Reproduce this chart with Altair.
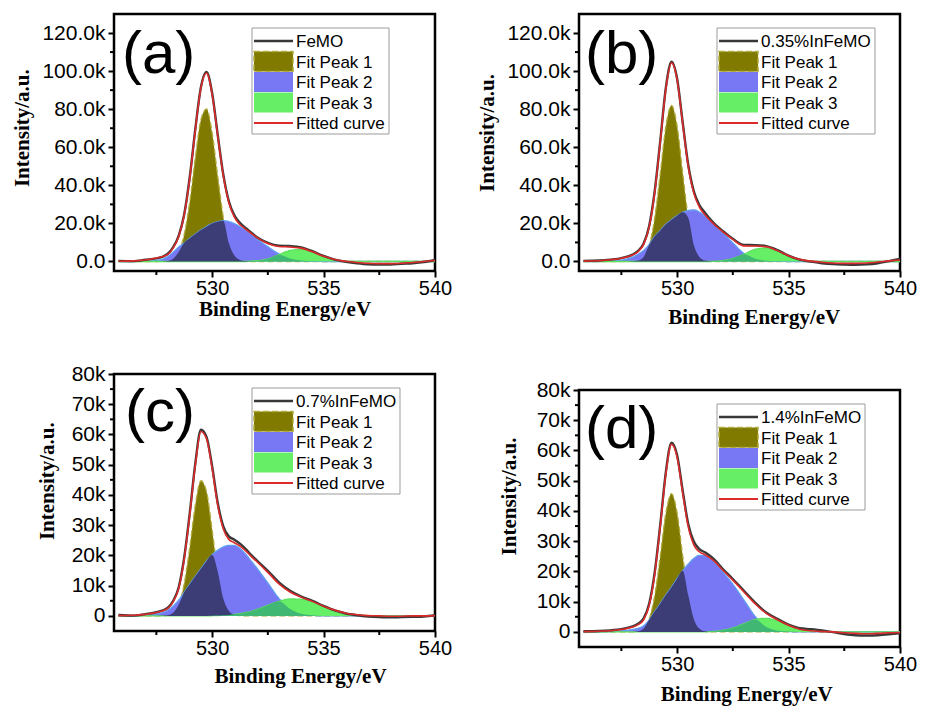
import altair as alt
import numpy as np
import pandas as pd

# ---- data -----------------------------------------------------------------
# Binding-energy grid (eV) shared by the four O 1s spectra
energy = [525.8, 526.5, 527.0, 527.5, 528.0, 528.25, 528.5, 528.75, 529.0, 529.25,
          529.5, 529.75, 530.0, 530.25, 530.5, 530.75, 531.0, 531.25, 531.5, 531.75,
          532.0, 532.5, 533.0, 533.5, 534.0, 534.5, 535.0, 535.5, 536.0, 536.5,
          537.0, 537.5, 538.0, 538.5, 539.0, 539.5, 540.0]

# intensities in thousands of counts
# (a) FeMO
a_raw = [0.3, 0.2, 0.9, 1.6, 3.9, 7.4, 13.4, 24.8, 44.5, 69.8, 91.6, 99.6, 88.6, 66.8, 45.9,
         31.8, 24.2, 20.3, 17.6, 15.3, 12.9, 9.8, 8.3, 8.1, 7.4, 5.4, 2.9, 1.0, -0.2, -1.0,
         -1.5, -1.6, -1.6, -1.2, -0.9, -0.3, 0.8]
a_fit = [0.1, 0.3, 0.8, 1.8, 3.6, 7.0, 13.0, 24.3, 43.8, 69.3, 91.2, 99.0, 88.0, 66.2, 45.2,
         31.0, 23.3, 19.4, 17.0, 14.8, 12.7, 9.5, 7.9, 7.6, 7.0, 5.1, 2.7, 1.0, 0.1, -0.5,
         -0.9, -1.1, -1.1, -0.9, -0.5, 0.0, 0.6]
a_p1 = [0, 0, 0, 0, 0.3, 1.4, 5.0, 14.2, 31.4, 54.6, 74.5, 80.1, 67.7, 45.0, 23.5,
        9.7, 3.1, 0.8, 0.2, 0, 0, 0, 0, 0, 0, 0, 0, 0, 0, 0,
        0, 0, 0, 0, 0, 0, 0]
a_p2 = [0, 0, 0.1, 0.5, 2.5, 4.8, 7.6, 9.8, 12.2, 14.4, 16.5, 18.3, 19.9, 20.9, 21.4,
        21.0, 19.9, 18.3, 16.4, 14.3, 12.0, 7.8, 4.0, 1.6, 0.5, 0.1, 0, 0, 0, 0,
        0, 0, 0, 0, 0, 0, 0]
a_p3 = [0, 0, 0, 0, 0, 0, 0, 0, 0, 0, 0, 0, 0, 0, 0,
        0, 0, 0, 0, 0.2, 0.4, 1.3, 3.6, 5.8, 6.3, 4.9, 2.6, 0.9, 0.2, 0,
        0, 0, 0, 0, 0, 0, 0]

# (b) 0.35%InFeMO
b_raw = [0.3, 0.5, 1.0, 1.8, 3.6, 5.6, 9.5, 18.8, 37.3, 63.9, 91.6, 104.9, 96.1, 73.2, 50.8,
         36.9, 29.7, 25.6, 22.0, 19.0, 16.5, 11.9, 8.7, 8.6, 8.1, 6.0, 3.1, 1.0, -0.1, -0.9,
         -1.4, -1.6, -1.7, -1.5, -0.9, 0.2, 1.3]
b_fit = [0.2, 0.4, 0.9, 1.7, 3.4, 5.2, 9.0, 18.2, 36.6, 63.2, 91.0, 104.3, 95.5, 72.6, 50.0,
         35.9, 28.6, 24.5, 21.3, 18.5, 16.1, 11.6, 8.2, 8.1, 7.7, 5.7, 3.0, 1.1, 0.2, -0.4,
         -0.8, -1.0, -1.0, -0.8, -0.3, 0.3, 0.8]
b_p1 = [0, 0, 0, 0, 0.1, 0.5, 2.4, 8.6, 23.0, 46.6, 71.2, 82.0, 71.2, 46.6, 23.0,
        8.6, 2.4, 0.5, 0.1, 0, 0, 0, 0, 0, 0, 0, 0, 0, 0, 0,
        0, 0, 0, 0, 0, 0, 0]
b_p2 = [0, 0, 0.2, 0.7, 2.3, 3.8, 5.8, 9.0, 13.2, 16.3, 19.5, 21.9, 24.0, 25.8, 26.8,
        27.1, 26.0, 23.8, 21.0, 18.2, 15.5, 9.8, 4.2, 1.5, 0.4, 0.1, 0, 0, 0, 0,
        0, 0, 0, 0, 0, 0, 0]
b_p3 = [0, 0, 0, 0, 0, 0, 0, 0, 0, 0, 0, 0, 0, 0, 0,
        0, 0, 0, 0, 0.1, 0.4, 1.6, 3.8, 6.4, 7.1, 5.4, 2.8, 1.0, 0.2, 0,
        0, 0, 0, 0, 0, 0, 0]

# (c) 0.7%InFeMO
c_raw = [0.3, 0.1, 0.6, 1.2, 2.6, 4.9, 9.4, 19.3, 34.1, 50.6, 61.6, 59.2, 49.6, 37.5, 29.7,
         26.3, 25.2, 23.9, 22.2, 20.2, 18.4, 14.9, 11.1, 8.3, 6.4, 5.0, 3.3, 1.8, 0.8, 0.2,
         -0.2, -0.4, -0.5, -0.4, -0.3, -0.2, 0.2]
c_fit = [0.1, 0.2, 0.5, 1.1, 2.4, 4.6, 9.0, 18.8, 33.5, 50.0, 61.0, 58.6, 48.9, 36.7, 28.8,
         25.3, 24.2, 23.1, 21.6, 19.7, 18.0, 14.4, 10.6, 7.9, 6.2, 4.8, 3.2, 1.9, 0.9, 0.4,
         0.1, 0.0, -0.1, -0.1, 0.0, 0.0, 0.1]
c_p1 = [0, 0, 0, 0, 0.2, 1.0, 3.7, 10.6, 22.7, 36.7, 44.7, 41.1, 28.5, 14.8, 5.8,
        1.7, 0.4, 0.1, 0, 0, 0, 0, 0, 0, 0, 0, 0, 0, 0, 0,
        0, 0, 0, 0, 0, 0, 0]
c_p2 = [0, 0, 0.2, 0.6, 1.8, 3.2, 5.2, 7.8, 10.5, 13.1, 15.6, 18.1, 20.2, 21.7, 22.8,
        23.3, 23.3, 22.3, 20.5, 18.2, 15.9, 10.9, 5.8, 2.3, 0.7, 0.2, 0, 0, 0, 0,
        0, 0, 0, 0, 0, 0, 0]
c_p3 = [0, 0, 0, 0, 0, 0, 0, 0, 0, 0, 0, 0, 0.05, 0.1, 0.2,
        0.3, 0.5, 0.7, 1.1, 1.5, 2.1, 3.5, 4.8, 5.6, 5.5, 4.6, 3.2, 1.9, 0.9, 0.4,
        0.1, 0, 0, 0, 0, 0, 0]

# (d) 1.4%InFeMO
d_raw = [0.2, 0.3, 0.5, 0.9, 1.8, 2.7, 4.5, 9.4, 19.9, 35.8, 53.1, 62.6, 58.5, 46.8, 35.7,
         29.9, 27.4, 26.3, 25.0, 23.3, 21.2, 17.5, 13.6, 9.7, 6.4, 4.3, 2.4, 1.2, 0.9, 0.5,
         -0.1, -0.7, -1.1, -1.2, -1.1, -0.8, -0.4]
d_fit = [0.1, 0.2, 0.4, 0.8, 1.6, 2.4, 4.0, 8.8, 19.3, 35.2, 52.5, 62.0, 57.8, 46.0, 34.8,
         28.8, 26.5, 25.5, 24.4, 22.8, 20.8, 17.1, 13.2, 9.3, 6.1, 4.0, 2.2, 0.9, 0.4, 0.1,
         0.0, -0.3, -0.5, -0.6, -0.5, -0.3, -0.2]
d_p1 = [0, 0, 0, 0, 0, 0.2, 1.1, 4.3, 12.1, 25.3, 39.4, 45.7, 39.4, 25.3, 12.1,
        4.3, 1.1, 0.2, 0, 0, 0, 0, 0, 0, 0, 0, 0, 0, 0, 0,
        0, 0, 0, 0, 0, 0, 0]
d_p2 = [0, 0, 0.1, 0.3, 0.8, 1.2, 2.0, 4.0, 6.8, 9.4, 12.2, 14.8, 17.6, 20.2, 22.4,
        24.3, 25.3, 25.2, 24.2, 22.5, 20.3, 15.8, 10.5, 5.2, 1.6, 0.4, 0.1, 0, 0, 0,
        0, 0, 0, 0, 0, 0, 0]
d_p3 = [0, 0, 0, 0, 0, 0, 0, 0, 0, 0, 0, 0, 0, 0, 0,
        0, 0, 0, 0.1, 0.2, 0.5, 1.3, 2.7, 4.1, 4.5, 3.6, 2.1, 0.9, 0.3, 0.1,
        0, 0, 0, 0, 0, 0, 0]

samples = ["FeMO", "0.35%InFeMO", "0.7%InFeMO", "1.4%InFeMO"]
peak_names = ["Fit Peak 1", "Fit Peak 2", "Fit Peak 3"]
fit_name = "Fitted curve"

x_major = [530, 535, 540]
x_minor = [527.5, 532.5, 537.5]
y_major_big = [0, 20, 40, 60, 80, 100, 120]
y_minor_big = [10, 30, 50, 70, 90, 110]
y_major_small = [0, 10, 20, 30, 40, 50, 60, 70, 80]
y_minor_small = [5, 15, 25, 35, 45, 55, 65, 75]

# ---- styling ----------------------------------------------------------------
W, H = 321, 257
X_DOMAIN = [525.6, 540]
SANS = "Liberation Sans"
SERIF = "Liberation Serif"
COL = {
    "raw": "#383838", "fit": "#dc2a2a",
    "p1": "#807b00", "p2": "#7878f4", "p3": "#66ee66",
    "ov12": "#3c3c77", "ov23": "#40b874",
    "p1_edge": "#b0aa3c", "p2_edge": "#5f9ff2", "p3_edge": "#5ee05e",
}
LEG_X, LEG_Y0, LEG_Y1 = 138, 14, 120
LEG_ROWS = [27, 47.5, 68, 88.5, 109]


def one_row(**kw):
    return alt.Chart(pd.DataFrame({k: [v] for k, v in kw.items()} or {"k": [0]}))


def panel(tag, sample, raw, fit, p1, p2, p3, y_top, y_major, y_minor, label_expr, lay):
    df = pd.DataFrame({"E": energy, "raw": raw, "fit": fit, "p1": p1, "p2": p2, "p3": p3})
    df["ov12"] = np.minimum(df["p1"], df["p2"])
    df["ov23"] = np.minimum(df["p2"], df["p3"])

    xs = alt.Scale(domain=X_DOMAIN, nice=False, zero=False)
    ys = alt.Scale(domain=[-5, y_top], nice=False, zero=False)

    x_axis = alt.Axis(
        values=x_major, title="Binding Energy/eV", titleFont=SERIF, titleFontWeight="bold",
        titleFontSize=21, titleColor="black", titleX=lay["tx"], titleY=lay["ty"],
        titleAlign="center", titleBaseline="alphabetic",
        labelFont=SANS, labelFontSize=20, labelColor="black", labelFlush=False,
        labelOverlap=False, labelPadding=1, tickSize=6, tickWidth=2, tickColor="black",
        domain=False, grid=False)
    y_axis = alt.Axis(
        values=y_major, labelExpr=label_expr, title="Intensity/a.u.", titleFont=SERIF,
        titleFontWeight="bold", titleFontSize=21, titleColor="black",
        titleX=lay["yx"], titleY=lay["yy"], titleAlign="center", titleBaseline="middle",
        labelFont=SANS, labelFontSize=21, labelColor="black", labelPadding=3,
        labelOverlap=False, labelFlush=False, tickSize=6, tickWidth=2, tickColor="black",
        domain=False, grid=False)

    # every layer that uses a position scale carries the same axis definition
    def X(field):
        return alt.X(f"{field}:Q", scale=xs, axis=x_axis)

    def Y(field, **kw):
        return alt.Y(f"{field}:Q", scale=ys, axis=y_axis, **kw)

    base = alt.Chart(df)
    layers = []

    def area(field, color, edge=None, dash=None):
        line = False
        if edge:
            line = alt.OverlayMarkDef(color=edge, strokeWidth=1.3, strokeDash=dash or [1, 0])
        return base.mark_area(color=color, opacity=1, interpolate="monotone", line=line).encode(
            x=X("E"), y=Y(field, stack=None), y2=alt.datum(0))

    layers.append(area("p1", COL["p1"], COL["p1_edge"], [6, 3]))
    layers.append(area("p2", COL["p2"], COL["p2_edge"]))
    layers.append(area("p3", COL["p3"], COL["p3_edge"]))
    layers.append(area("ov12", COL["ov12"]))
    layers.append(area("ov23", COL["ov23"]))

    # measured spectrum, then the fitted envelope
    layers.append(base.mark_line(color=COL["raw"], strokeWidth=2.4, interpolate="monotone").encode(
        x=X("E"), y=Y("raw")))
    layers.append(base.mark_line(color=COL["fit"], strokeWidth=1.6, interpolate="monotone").encode(
        x=X("E"), y=Y("fit")))

    # minor ticks on both axes
    layers.append(alt.Chart(pd.DataFrame({"v": y_minor})).mark_rule(color="black", strokeWidth=2).encode(
        y=Y("v"), x=alt.value(0), x2=alt.value(-4)))
    layers.append(alt.Chart(pd.DataFrame({"v": x_minor})).mark_rule(color="black", strokeWidth=2).encode(
        x=X("v"), y=alt.value(H), y2=alt.value(H + 4)))

    # panel letter
    layers.append(one_row(tag=tag).mark_text(
        font=SANS, fontSize=60, align="left", baseline="alphabetic", color="black").encode(
        text="tag:N", x=alt.value(lay["tagx"]), y=alt.value(lay["tagy"])))

    # legend
    layers.append(one_row().mark_rect(fill="white", stroke="#9b9b9b", strokeWidth=1).encode(
        x=alt.value(LEG_X), x2=alt.value(LEG_X + lay["legw"]),
        y=alt.value(LEG_Y0), y2=alt.value(LEG_Y1)))
    entries = [(sample, "line", COL["raw"], 2.4)]
    entries += [(n, "rect", COL[k], None) for n, k in zip(peak_names, ["p1", "p2", "p3"])]
    entries += [(fit_name, "line", COL["fit"], 1.8)]
    for (name, kind, color, width), cy in zip(entries, LEG_ROWS):
        if kind == "line":
            layers.append(one_row().mark_rule(color=color, strokeWidth=width).encode(
                x=alt.value(140), x2=alt.value(179), y=alt.value(cy)))
        else:
            extra = {}
            if color == COL["p1"]:
                extra = dict(stroke=COL["p1_edge"], strokeWidth=1.5, strokeDash=[6, 3])
            layers.append(one_row().mark_rect(fill=color, **extra).encode(
                x=alt.value(140), x2=alt.value(179), y=alt.value(cy - 10), y2=alt.value(cy + 10)))
        layers.append(one_row(label=name).mark_text(
            font=SANS, fontSize=17, align="left", baseline="middle", color="black").encode(
            text="label:N", x=alt.value(182), y=alt.value(cy + 1)))

    return alt.layer(*layers).properties(width=W, height=H)


big_expr = "datum.value == 0 ? '0.0' : format(datum.value, '.1f') + 'k'"
small_expr = "datum.value == 0 ? '0' : format(datum.value, 'd') + 'k'"

pa = panel("(a)", samples[0], a_raw, a_fit, a_p1, a_p2, a_p3, 130, y_major_big, y_minor_big, big_expr,
           dict(tx=170.5, ty=44, yx=-91.5, yy=113.7, legw=137, tagx=8, tagy=59))
pb = panel("(b)", samples[1], b_raw, b_fit, b_p1, b_p2, b_p3, 130, y_major_big, y_minor_big, big_expr,
           dict(tx=174.7, ty=52.5, yx=-91.5, yy=118.5, legw=158, tagx=6, tagy=59))
pc = panel("(c)", samples[2], c_raw, c_fit, c_p1, c_p2, c_p3, 80, y_major_small, y_minor_small, small_expr,
           dict(tx=186, ty=51.5, yx=-66.5, yy=106.7, legw=148, tagx=11, tagy=57))
pd_ = panel("(d)", samples[3], d_raw, d_fit, d_p1, d_p2, d_p3, 80, y_major_small, y_minor_small, small_expr,
            dict(tx=167.2, ty=53, yx=-69.5, yy=106, legw=148, tagx=6, tagy=58))

left = alt.vconcat(pa, pc, spacing=40)
right = alt.vconcat(pb, pd_, spacing=48)
chart = alt.hconcat(left, right, spacing=22).properties(
    padding={"left": 10, "top": 12, "right": 0, "bottom": 0},
    background="white",
).configure_view(stroke="black", strokeWidth=2.5)

chart.save("out.html", embed_options={"renderer": "svg", "actions": False})
